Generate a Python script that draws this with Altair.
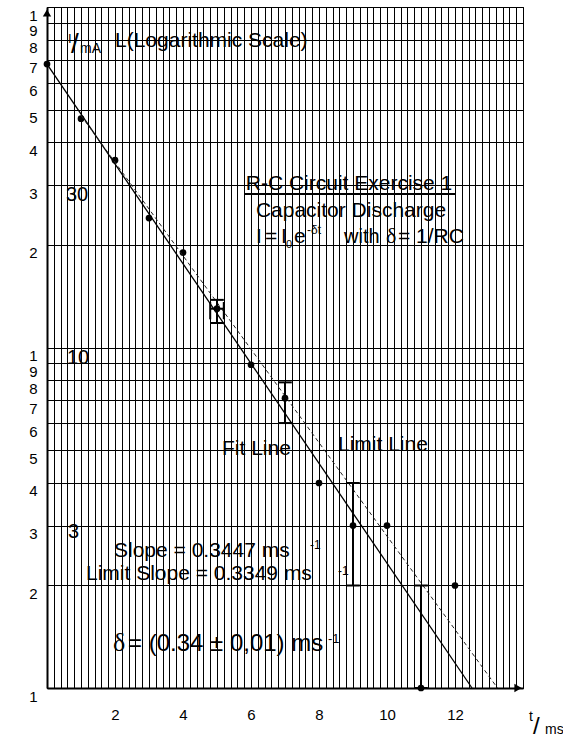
import altair as alt
import pandas as pd

# ---------------- data ----------------
t_ms = [0, 1, 2, 3, 4, 5, 6, 7, 8, 9, 10, 11, 12]
I_mA = [68, 47, 35.5, 24, 19, 13, 8.9, 7.1, 4.0, 3.0, 3.0, 1.0, 2.0]

# vertical error bars
err_t = [5, 7, 9, 11]
err_low = [11.8, 6.0, 2.0, 1.0]
err_high = [13.8, 7.9, 4.0, 2.0]

# horizontal error bar (t = 5 point)
xerr_I = [13.0]
xerr_low = [4.8]
xerr_high = [5.2]
xerr_cap_low = [12.1]
xerr_cap_high = [13.6]

# fit line and limit line end points
fit_t = [0, 12.5]
fit_I = [68, 1]
limit_t = [1.0, 13.25]
limit_I = [48, 1]

# axis ticks / grid
x_grid = [round(i * 0.2, 1) for i in range(71)]
y_ticks = [1, 2, 3, 4, 5, 6, 7, 8, 9, 10, 20, 30, 40, 50, 60, 70, 80, 90, 100]

# ---------------- layout ----------------
L, T = 47, 7
W, H = 476, 681
FONT = "Liberation Sans"
SERIF = "Liberation Serif"

xscale = alt.Scale(domain=[0, 14], nice=False, zero=False)
yscale = alt.Scale(type="log", domain=[1, 100], nice=False)

xaxis = alt.Axis(
    values=x_grid, grid=True, gridColor="black", gridWidth=1, gridOpacity=1,
    ticks=False, domain=True, domainColor="black", domainWidth=2,
    labelExpr="(abs(datum.value - round(datum.value)) < 0.01 && round(datum.value) % 2 == 0 && datum.value > 0.5 && datum.value < 12.5) ? '' + round(datum.value) : ''",
    labelOverlap=False, labelFont=FONT, labelFontSize=15, labelColor="black",
    labelBaseline="alphabetic", labelPadding=31, title=None,
)
yaxis = alt.Axis(
    values=y_ticks, grid=True, gridColor="black", gridWidth=1, gridOpacity=1,
    ticks=False, domain=True, domainColor="black", domainWidth=2,
    labelExpr="'' + round(datum.value / pow(10, floor(log(datum.value) / LN10 + 1e-6)))",
    labelOverlap=False, labelFont=FONT, labelFontSize=15, labelColor="black",
    labelPadding=10, labelOffset=8, title=None,
)


def X(f):
    return alt.X(f, type="quantitative", scale=xscale, axis=xaxis)


def Y(f):
    return alt.Y(f, type="quantitative", scale=yscale, axis=yaxis)


pts = pd.DataFrame({"t": t_ms, "I": I_mA})
err = pd.DataFrame({"t": err_t, "lo": err_low, "hi": err_high})
xerr = pd.DataFrame({"I": xerr_I, "lo": xerr_low, "hi": xerr_high,
                     "clo": xerr_cap_low, "chi": xerr_cap_high})
fit = pd.DataFrame({"t": fit_t, "I": fit_I})
lim = pd.DataFrame({"t": limit_t, "I": limit_I})

points = alt.Chart(pts).mark_circle(size=45, color="black", opacity=1).encode(x=X("t"), y=Y("I"))

fit_line = alt.Chart(fit).mark_line(color="black", strokeWidth=1.3).encode(x=X("t"), y=Y("I"))
lim_line = alt.Chart(lim).mark_line(color="#222", strokeWidth=1, strokeDash=[4, 3]).encode(x=X("t"), y=Y("I"))

ebar = alt.Chart(err).mark_rule(color="black", strokeWidth=2).encode(x=X("t"), y=Y("lo"), y2="hi")
ecap_hi = alt.Chart(err).transform_calculate(a="datum.t - 0.2", b="datum.t + 0.2").mark_rule(
    color="black", strokeWidth=2).encode(x=X("a"), x2="b", y=Y("hi"))
ecap_lo = alt.Chart(err).transform_calculate(a="datum.t - 0.2", b="datum.t + 0.2").mark_rule(
    color="black", strokeWidth=2).encode(x=X("a"), x2="b", y=Y("lo"))
xbar = alt.Chart(xerr).mark_rule(color="black", strokeWidth=2).encode(x=X("lo"), x2="hi", y=Y("I"))
xcap_l = alt.Chart(xerr).mark_rule(color="black", strokeWidth=2).encode(x=X("lo"), y=Y("clo"), y2="chi")
xcap_r = alt.Chart(xerr).mark_rule(color="black", strokeWidth=2).encode(x=X("hi"), y=Y("clo"), y2="chi")

one = pd.DataFrame({"k": [0]})


def txt(s, x, y, size=21, align="left", font=FONT, baseline="alphabetic"):
    return alt.Chart(one).mark_text(
        text=s, fontSize=size, font=font, align=align, baseline=baseline, color="black"
    ).encode(x=alt.value(x - L), y=alt.value(y - T))


annotations = [
    # y-axis caption
    txt("I", 68, 43, 13),
    txt("/", 71, 53, 28),
    txt("mA", 80, 53, 14),
    txt("L(Logarithmic Scale)", 115, 47, 21),
    # title block
    txt("R-C Circuit Exercise 1", 349, 190, 21, align="center"),
    txt("Capacitor Discharge", 351, 217, 21, align="center"),
    txt("I", 256, 243, 21),
    txt("=", 265, 243, 21),
    txt("I", 281, 243, 21),
    txt("0", 286, 248, 11),
    txt("e", 294, 243, 21),
    txt("-δt", 307, 234, 12),
    txt("with", 344, 243, 20),
    txt("δ", 386, 243, 22, font=SERIF),
    txt("= 1/RC", 398, 243, 21),
    # line labels
    txt("Fit Line", 222, 455, 21),
    txt("Limit Line", 338, 451, 21),
    # slopes
    txt("Slope = 0.3447 ms", 114, 557, 21),
    txt("-1", 310, 549, 12),
    txt("Limit Slope = 0.3349 ms", 86, 580, 21),
    txt("-1", 338, 575, 12),
    txt("δ", 113, 651, 26, font=SERIF),
    txt("= (0.34 ± 0,01) ms", 128, 651, 24),
    txt("-1", 328, 643, 13),
    # decade labels inside the grid
    txt("30", 66, 201, 20),
    txt("10", 67, 364, 20),
    txt("3", 68, 538, 20),
    # x caption
    txt("t", 529, 721, 14),
    txt("/", 533, 734, 24),
    txt("ms", 545, 734, 14),
]

underline = alt.Chart(one).mark_rule(color="black", strokeWidth=2).encode(
    x=alt.value(245 - L), x2=alt.value(455 - L), y=alt.value(194 - T))

arrow_up = alt.Chart(one).mark_point(shape="triangle-up", filled=True, size=70, color="black", opacity=1).encode(
    x=alt.value(0), y=alt.value(6))
arrow_right = alt.Chart(one).mark_point(shape="triangle-right", filled=True, size=70, color="black", opacity=1).encode(
    x=alt.value(471), y=alt.value(H))

chart = alt.layer(
    points, fit_line, lim_line, ebar, ecap_hi, ecap_lo, xbar, xcap_l, xcap_r,
    underline, arrow_up, arrow_right, *annotations
).properties(
    width=W, height=H,
    autosize=alt.AutoSizeParams(type="none"),
    padding={"left": L, "top": T, "right": 563 - L - W, "bottom": 739 - T - H},
    background="white",
).configure_view(stroke="black", strokeWidth=1)

chart.save("out.html", embed_options={"renderer": "svg", "actions": False})
